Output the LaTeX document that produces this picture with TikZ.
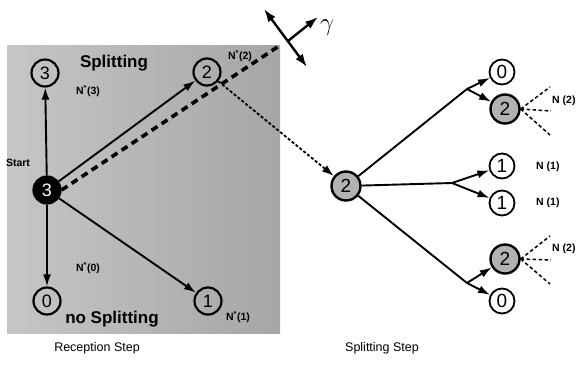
\documentclass[tikz,border=0pt]{standalone}
\usepackage{fontspec}
\setmainfont{Liberation Sans}
\usetikzlibrary{arrows.meta}
\begin{document}
\begin{tikzpicture}[x=1pt,y=-1pt,
  st/.style={circle,draw,line width=2.2pt,inner sep=0pt,minimum size=27pt,font=\fontsize{18}{18}\selectfont},
  wn/.style={circle,draw,fill=white,line width=1.8pt,inner sep=0pt,minimum size=25pt,font=\fontsize{19}{19}\selectfont},
  gn/.style={circle,draw,fill=gray!60,line width=2.4pt,inner sep=0pt,minimum size=29pt,font=\fontsize{19}{19}\selectfont},
  arr/.style={line width=1.9pt,-{Latex[length=12pt,width=8pt]}},
  ln/.style={line width=1.9pt},
  lab/.style={font=\fontsize{10.5}{10.5}\selectfont\bfseries,inner sep=1pt},
  big/.style={font=\fontsize{17}{17}\selectfont\bfseries,inner sep=1pt},
  captxt/.style={font=\fontsize{12.5}{12.5}\selectfont}
]
\useasboundingbox (0,0) rectangle (577,373);
% gray field
\shade[left color=gray!45,right color=gray!70] (7,45) rectangle (280,333);
\coordinate (corner) at (279,46);
% reception nodes
\node[st,fill=black,text=white] (start) at (47,190) {3};
\node[st] (n3) at (45,73) {3};
\node[st] (n2) at (207,72) {2};
\node[st] (n0) at (47,301) {0};
\node[st] (n1) at (208,301) {1};
\draw[arr] (start) -- (n3);
\draw[arr] (start) -- (n0);
\draw[arr] (start) -- (n2);
\draw[arr] (start) -- (n1);
\draw[line width=3.6pt,dash pattern=on 7pt off 5pt] (start.east) -- (corner);
% labels
\node[big] (tsplit) at (114,63) {Splitting};
\node[big] (tnosplit) at (112,319) {no Splitting};
\node[lab] (tstart) at (18,163) {Start};
\node[lab] (l3) at (88,91) {N\textsuperscript{*}(3)};
\node[lab] (l2) at (240,56) {N\textsuperscript{*}(2)};
\node[lab] (l0) at (88,268) {N\textsuperscript{*}(0)};
\node[lab] (l1) at (238,317) {N\textsuperscript{*}(1)};
% gamma
\coordinate (ga) at (264,9);
\coordinate (gb) at (307,67);
\coordinate (gc) at (288,41);
\coordinate (gd) at (318,17);
\draw[line width=2.4pt,{Latex[length=13pt,width=9pt]}-{Latex[length=13pt,width=9pt]}] (ga) -- (gb);
\draw[line width=2.4pt,-{Latex[length=13pt,width=9pt]}] (gc) -- (gd);
\node (gam) at (327,28) {\fontsize{28}{28}\selectfont$\gamma$};
% splitting step
\node[gn] (S) at (346,186) {2};
\draw[line width=1.8pt,dash pattern=on 3pt off 2pt,-{Latex[length=12pt,width=8pt]}] (n2) -- (S);
\coordinate (U) at (467,89);
\coordinate (M) at (452,183);
\coordinate (L) at (467,283);
\node[wn] (z1) at (502,72) {0};
\node[gn] (t1) at (505,109) {2};
\node[wn] (o1) at (502,166) {1};
\node[wn] (o2) at (502,203) {1};
\node[gn] (t2) at (505,259) {2};
\node[wn] (z2) at (502,301) {0};
\draw[ln] (S) -- (U);
\draw[ln] (S) -- (M);
\draw[ln] (S) -- (L);
\draw[arr] (U) -- (z1);
\draw[arr] (U) -- (t1);
\draw[arr] (M) -- (o1);
\draw[arr] (M) -- (o2);
\draw[arr] (L) -- (t2);
\draw[arr] (L) -- (z2);
% dashed rays
\coordinate (a1) at (550,87);
\coordinate (a2) at (551,111);
\coordinate (a3) at (550,135);
\coordinate (b1) at (550,236);
\coordinate (b2) at (551,260);
\coordinate (b3) at (550,284);
\foreach \c in {a1,a2,a3} \draw[line width=1.5pt,dash pattern=on 3.5pt off 2.5pt] (t1.east) -- (\c);
\foreach \c in {b1,b2,b3} \draw[line width=1.5pt,dash pattern=on 3.5pt off 2.5pt] (t2.east) -- (\c);
\node[lab,anchor=west] (na) at (551,101) {N (2)};
\node[lab,anchor=west] (nb) at (551,249) {N (2)};
\node[lab,anchor=west] (nc) at (535,167) {N (1)};
\node[lab,anchor=west] (nd) at (535,203) {N (1)};
% captions
\node[captxt] (c1) at (97,348) {Reception Step};
\node[captxt] (c2) at (382,348) {Splitting Step};
\end{tikzpicture}
\end{document}
